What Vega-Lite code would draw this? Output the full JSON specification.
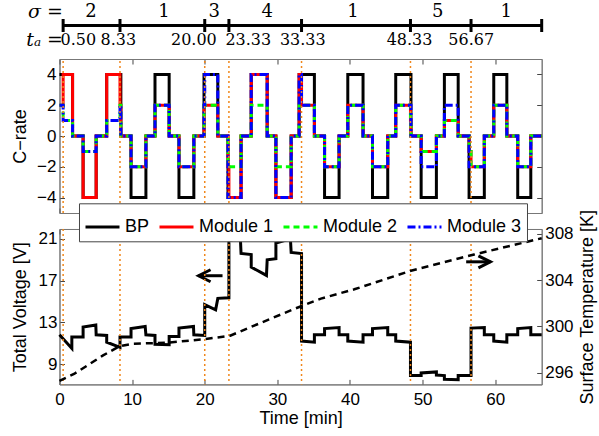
{
  "$schema": "https://vega.github.io/schema/vega-lite/v6.json",
  "background": "white",
  "padding": {"left": 10.5, "top": 0, "right": 2, "bottom": 2},
  "spacing": 16,
  "bounds": "flush",
  "config": {
    "font": "Liberation Sans",
    "view": {"stroke": "#777", "strokeWidth": 1},
    "axis": {"grid": false, "labelFont": "Liberation Sans", "labelFontSize": 17, "labelColor": "#000", "titleFont": "Liberation Sans", "titleFontSize": 18, "titleFontWeight": "normal", "titleColor": "#000", "tickSize": -5, "tickColor": "#444", "domainColor": "#777", "labelFlush": false, "labelOverlap": false, "labelPadding": 11},
    "legend": {"orient": "none", "legendX": 19.5, "legendY": 203.3, "direction": "horizontal", "symbolType": "stroke", "symbolSize": 1156, "symbolStrokeWidth": 3, "labelFont": "Liberation Sans", "labelFontSize": 18, "labelColor": "black", "labelOffset": 4, "columnPadding": 3, "padding": 5, "fillColor": "white", "strokeColor": "#444", "cornerRadius": 0}
  },
  "datasets": {
    "switches": [{"t": 0.5}, {"t": 8.33}, {"t": 20.0}, {"t": 23.33}, {"t": 33.33}, {"t": 48.33}, {"t": 56.67}],
    "timelineTicks": [{"t": 0.5}, {"t": 8.33}, {"t": 20.0}, {"t": 23.33}, {"t": 33.33}, {"t": 48.33}, {"t": 56.67}, {"t": 66.4}],
    "timelineSpan": [{"t1": 0.5, "t2": 66.4}],
    "sigmaLabels": [{"t": 4.35, "sigma": "2"}, {"t": 14.4, "sigma": "1"}, {"t": 21.3, "sigma": "3"}, {"t": 28.6, "sigma": "4"}, {"t": 40.4, "sigma": "1"}, {"t": 52.1, "sigma": "5"}, {"t": 61.5, "sigma": "1"}],
    "taLabels": [{"t": 2.6, "label": "0.50"}, {"t": 8.1, "label": "8.33"}, {"t": 18.5, "label": "20.00"}, {"t": 26.0, "label": "23.33"}, {"t": 33.5, "label": "33.33"}, {"t": 48.2, "label": "48.33"}, {"t": 56.7, "label": "56.67"}],
    "crate": [
      {"t": 0, "BP": 4, "Module 1": 2, "Module 2": 2, "Module 3": 2},
      {"t": 0.5, "BP": 4, "Module 1": 4, "Module 2": 1, "Module 3": 1},
      {"t": 1.8, "BP": 0, "Module 1": 0, "Module 2": 0, "Module 3": 0},
      {"t": 3.25, "BP": -4, "Module 1": -4, "Module 2": -1, "Module 3": -1},
      {"t": 5.05, "BP": 0, "Module 1": 0, "Module 2": 0, "Module 3": 0},
      {"t": 6.5, "BP": 4, "Module 1": 4, "Module 2": 1, "Module 3": 1},
      {"t": 8.33, "BP": 4, "Module 1": 2, "Module 2": 2, "Module 3": 2},
      {"t": 8.45, "BP": 0, "Module 1": 0, "Module 2": 0, "Module 3": 0},
      {"t": 9.85, "BP": -4, "Module 1": -2, "Module 2": -2, "Module 3": -2},
      {"t": 11.9, "BP": 0, "Module 1": 0, "Module 2": 0, "Module 3": 0},
      {"t": 13.15, "BP": 4, "Module 1": 2, "Module 2": 2, "Module 3": 2},
      {"t": 15.1, "BP": 0, "Module 1": 0, "Module 2": 0, "Module 3": 0},
      {"t": 16.45, "BP": -4, "Module 1": -2, "Module 2": -2, "Module 3": -2},
      {"t": 18.5, "BP": 0, "Module 1": 0, "Module 2": 0, "Module 3": 0},
      {"t": 19.9, "BP": 4, "Module 1": 2, "Module 2": 2, "Module 3": 2},
      {"t": 20.0, "BP": 4, "Module 1": 2, "Module 2": 2, "Module 3": 4},
      {"t": 21.8, "BP": 0, "Module 1": 0, "Module 2": 0, "Module 3": 0},
      {"t": 23.2, "BP": -4, "Module 1": -2, "Module 2": -2, "Module 3": -4},
      {"t": 23.33, "BP": -4, "Module 1": -4, "Module 2": -2, "Module 3": -4},
      {"t": 25.0, "BP": 0, "Module 1": 0, "Module 2": 0, "Module 3": 0},
      {"t": 26.4, "BP": 4, "Module 1": 4, "Module 2": 2, "Module 3": 4},
      {"t": 28.6, "BP": 0, "Module 1": 0, "Module 2": 0, "Module 3": 0},
      {"t": 29.8, "BP": -4, "Module 1": -4, "Module 2": -2, "Module 3": -4},
      {"t": 31.9, "BP": 0, "Module 1": 0, "Module 2": 0, "Module 3": 0},
      {"t": 33.0, "BP": 4, "Module 1": 4, "Module 2": 2, "Module 3": 4},
      {"t": 33.33, "BP": 4, "Module 1": 2, "Module 2": 2, "Module 3": 2},
      {"t": 35.1, "BP": 0, "Module 1": 0, "Module 2": 0, "Module 3": 0},
      {"t": 36.5, "BP": -4, "Module 1": -2, "Module 2": -2, "Module 3": -2},
      {"t": 38.5, "BP": 0, "Module 1": 0, "Module 2": 0, "Module 3": 0},
      {"t": 39.7, "BP": 4, "Module 1": 2, "Module 2": 2, "Module 3": 2},
      {"t": 41.8, "BP": 0, "Module 1": 0, "Module 2": 0, "Module 3": 0},
      {"t": 43.1, "BP": -4, "Module 1": -2, "Module 2": -2, "Module 3": -2},
      {"t": 45.2, "BP": 0, "Module 1": 0, "Module 2": 0, "Module 3": 0},
      {"t": 46.3, "BP": 4, "Module 1": 2, "Module 2": 2, "Module 3": 2},
      {"t": 48.33, "BP": 4, "Module 1": 1, "Module 2": 1, "Module 3": 2},
      {"t": 48.4, "BP": 0, "Module 1": 0, "Module 2": 0, "Module 3": 0},
      {"t": 49.8, "BP": -4, "Module 1": -1, "Module 2": -1, "Module 3": -2},
      {"t": 51.9, "BP": 0, "Module 1": 0, "Module 2": 0, "Module 3": 0},
      {"t": 53.0, "BP": 4, "Module 1": 1, "Module 2": 1, "Module 3": 2},
      {"t": 54.9, "BP": 0, "Module 1": 0, "Module 2": 0, "Module 3": 0},
      {"t": 56.4, "BP": -4, "Module 1": -1, "Module 2": -1, "Module 3": -2},
      {"t": 56.67, "BP": -4, "Module 1": -2, "Module 2": -2, "Module 3": -2},
      {"t": 58.5, "BP": 0, "Module 1": 0, "Module 2": 0, "Module 3": 0},
      {"t": 59.8, "BP": 4, "Module 1": 2, "Module 2": 2, "Module 3": 2},
      {"t": 61.6, "BP": 0, "Module 1": 0, "Module 2": 0, "Module 3": 0},
      {"t": 63.1, "BP": -4, "Module 1": -2, "Module 2": -2, "Module 3": -2},
      {"t": 64.9, "BP": 0, "Module 1": 0, "Module 2": 0, "Module 3": 0},
      {"t": 66.4, "BP": 0, "Module 1": 0, "Module 2": 0, "Module 3": 0}
    ],
    "voltage": [
      {"t": 0, "v": 11.8}, {"t": 1.7, "v": 10.5}, {"t": 1.7, "v": 11.6}, {"t": 3.25, "v": 11.6}, {"t": 3.25, "v": 12.55}, {"t": 5.0, "v": 12.75}, {"t": 5.05, "v": 11.8},
      {"t": 6.5, "v": 11.75}, {"t": 6.5, "v": 11.1}, {"t": 8.33, "v": 10.6}, {"t": 8.33, "v": 11.6}, {"t": 9.85, "v": 11.6}, {"t": 9.85, "v": 12.4}, {"t": 11.8, "v": 12.6},
      {"t": 11.9, "v": 11.8}, {"t": 13.15, "v": 11.75}, {"t": 13.15, "v": 10.9}, {"t": 15.1, "v": 10.85}, {"t": 15.1, "v": 11.64}, {"t": 16.45, "v": 11.64}, {"t": 16.45, "v": 12.45},
      {"t": 18.45, "v": 12.6}, {"t": 18.5, "v": 11.8}, {"t": 20.0, "v": 11.75}, {"t": 20.0, "v": 14.7}, {"t": 21.5, "v": 14.2}, {"t": 21.8, "v": 15.3}, {"t": 23.33, "v": 15.35},
      {"t": 23.33, "v": 20.8}, {"t": 24.9, "v": 21.2}, {"t": 25.0, "v": 19.6}, {"t": 26.4, "v": 19.5}, {"t": 26.4, "v": 18.3}, {"t": 28.5, "v": 17.5}, {"t": 28.6, "v": 19.0},
      {"t": 29.8, "v": 19.1}, {"t": 29.8, "v": 20.6}, {"t": 31.8, "v": 21.0}, {"t": 31.9, "v": 19.7}, {"t": 33.33, "v": 19.6}, {"t": 33.33, "v": 11.2}, {"t": 35.1, "v": 11.1},
      {"t": 35.1, "v": 11.8}, {"t": 36.5, "v": 11.8}, {"t": 36.5, "v": 12.4}, {"t": 38.5, "v": 12.5}, {"t": 38.5, "v": 11.8}, {"t": 39.7, "v": 11.8}, {"t": 39.7, "v": 11.2},
      {"t": 41.8, "v": 11.1}, {"t": 41.8, "v": 11.8}, {"t": 43.1, "v": 11.8}, {"t": 43.1, "v": 12.4}, {"t": 45.2, "v": 12.5}, {"t": 45.2, "v": 11.8}, {"t": 46.3, "v": 11.8},
      {"t": 46.3, "v": 11.2}, {"t": 48.33, "v": 11.1}, {"t": 48.33, "v": 7.9}, {"t": 49.8, "v": 7.9}, {"t": 49.8, "v": 8.15}, {"t": 51.9, "v": 8.25}, {"t": 51.9, "v": 7.95},
      {"t": 53.0, "v": 7.9}, {"t": 53.0, "v": 7.55}, {"t": 54.9, "v": 7.5}, {"t": 54.9, "v": 7.9}, {"t": 56.67, "v": 7.9}, {"t": 56.67, "v": 12.45}, {"t": 58.5, "v": 12.5},
      {"t": 58.5, "v": 11.8}, {"t": 59.8, "v": 11.8}, {"t": 59.8, "v": 11.2}, {"t": 61.6, "v": 11.1}, {"t": 61.6, "v": 11.8}, {"t": 63.1, "v": 11.8}, {"t": 63.1, "v": 12.4},
      {"t": 64.9, "v": 12.5}, {"t": 64.9, "v": 11.8}, {"t": 66.4, "v": 11.8}
    ],
    "temperature": [
      {"t": 0, "temp": 295.3}, {"t": 2, "temp": 295.9}, {"t": 4, "temp": 296.7}, {"t": 6, "temp": 297.5}, {"t": 8.3, "temp": 298.3}, {"t": 10, "temp": 298.5},
      {"t": 15, "temp": 298.6}, {"t": 20, "temp": 298.9}, {"t": 23.5, "temp": 299.2}, {"t": 27.7, "temp": 300.3}, {"t": 32.3, "temp": 301.5}, {"t": 36, "temp": 302.4},
      {"t": 40.6, "temp": 303.2}, {"t": 48.4, "temp": 304.8}, {"t": 57.1, "temp": 306.2}, {"t": 66.4, "temp": 307.6}
    ],
    "arrowL": [{"t1": 19.15, "t2": 22.45, "v": 17.47}],
    "arrowR": [{"t1": 56.0, "t2": 59.34, "temp": 305.57}]
  },
  "vconcat": [
    {
      "width": 482.2, "height": 43, "view": {"stroke": null},
      "layer": [
        {"data": {"name": "timelineSpan"}, "mark": {"type": "rule", "strokeWidth": 3, "color": "black"},
         "encoding": {
           "x": {"field": "t1", "type": "quantitative", "scale": {"domain": [0, 66.4], "nice": false, "zero": false}, "axis": null},
           "x2": {"field": "t2"},
           "y": {"datum": "axis", "type": "nominal", "scale": {"type": "point", "domain": ["σ =", "axis", "tₐ  ="], "padding": 0.536, "align": 0.767},
                 "axis": {"orient": "left", "values": ["σ =", "tₐ  ="], "ticks": false, "domain": false, "labelFont": "DejaVu Serif", "labelFontStyle": "italic", "labelFontSize": 19, "labelPadding": -3, "title": null}}
         }},
        {"data": {"name": "timelineTicks"}, "mark": {"type": "tick", "size": 13, "thickness": 3, "color": "black", "opacity": 1},
         "encoding": {"x": {"field": "t", "type": "quantitative"}, "y": {"datum": "axis", "type": "nominal"}}},
        {"data": {"name": "sigmaLabels"}, "mark": {"type": "text", "font": "DejaVu Serif", "fontSize": 18, "baseline": "middle", "color": "black"},
         "encoding": {"x": {"field": "t", "type": "quantitative"}, "y": {"datum": "σ =", "type": "nominal"}, "text": {"field": "sigma"}}},
        {"data": {"name": "taLabels"}, "mark": {"type": "text", "font": "DejaVu Serif", "fontSize": 16, "baseline": "middle", "color": "black"},
         "encoding": {"x": {"field": "t", "type": "quantitative"}, "y": {"datum": "tₐ  =", "type": "nominal"}, "text": {"field": "label"}}}
      ]
    },
    {
      "width": 482.2, "height": 154,
      "layer": [
        {"data": {"name": "crate"},
         "transform": [{"fold": ["BP", "Module 1", "Module 2", "Module 3"], "as": ["series", "value"]}],
         "mark": {"type": "line", "interpolate": "step-after", "strokeWidth": 3},
         "encoding": {
           "x": {"field": "t", "type": "quantitative", "scale": {"domain": [0, 66.4], "nice": false, "zero": false},
                 "axis": {"orient": "bottom", "values": [0, 10, 20, 30, 40, 50, 60], "labels": false, "title": null}},
           "y": {"field": "value", "type": "quantitative", "scale": {"domain": [-5, 5], "nice": false},
                 "axis": {"orient": "left", "values": [-4, -2, 0, 2, 4], "title": "C−rate", "labelPadding": 8.5, "titlePadding": 7.6}},
           "color": {"field": "series", "type": "nominal", "scale": {"domain": ["BP", "Module 1", "Module 2", "Module 3"], "range": ["#000000", "#ff0000", "#00ff00", "#0000ff"]}, "legend": {"title": null}},
           "strokeDash": {"field": "series", "type": "nominal", "scale": {"domain": ["BP", "Module 1", "Module 2", "Module 3"], "range": [[1, 0], [1, 0], [6, 4], [8, 3, 2, 3]]}, "legend": {"title": null}}
         }},
        {"data": {"name": "switches"}, "mark": {"type": "rule", "color": "#f0861a", "strokeWidth": 1.5, "strokeDash": [2, 3]},
         "encoding": {
           "x": {"field": "t", "type": "quantitative", "axis": {"orient": "top", "values": [0, 10, 20, 30, 40, 50, 60], "labels": false, "title": null}},
           "y": {"datum": -5, "type": "quantitative", "axis": {"orient": "right", "values": [-4, -2, 0, 2, 4], "labels": false, "title": null}},
           "y2": {"datum": 5}
         }}
      ],
      "resolve": {"axis": {"x": "independent", "y": "independent"}}
    },
    {
      "width": 482.2, "height": 155.4,
      "layer": [
        {
          "layer": [
            {"data": {"name": "voltage"}, "mark": {"type": "line", "color": "black", "strokeWidth": 3},
             "encoding": {
               "x": {"field": "t", "type": "quantitative", "scale": {"domain": [0, 66.4], "nice": false, "zero": false},
                     "axis": {"orient": "bottom", "values": [0, 10, 20, 30, 40, 50, 60], "title": "Time [min]", "labelPadding": 12, "titlePadding": 2}},
               "y": {"field": "v", "type": "quantitative", "scale": {"domain": [7.05, 21.95], "nice": false, "zero": false},
                     "axis": {"orient": "left", "values": [9, 13, 17, 21], "title": "Total Voltage [V]", "labelPadding": 7.5, "titlePadding": 9}}
             }},
            {"data": {"name": "arrowL"}, "mark": {"type": "rule", "strokeWidth": 3, "color": "black"},
             "encoding": {"x": {"field": "t1", "type": "quantitative", "axis": null}, "x2": {"field": "t2"}, "y": {"field": "v", "type": "quantitative"}}},
            {"data": {"name": "arrowL"}, "mark": {"type": "point", "shape": "M 2 -1 L 0 0 L 2 1", "filled": false, "size": 144, "strokeWidth": 3, "color": "black", "opacity": 1},
             "encoding": {"x": {"field": "t1", "type": "quantitative", "axis": null}, "y": {"field": "v", "type": "quantitative"}}},
            {"data": {"name": "switches"}, "mark": {"type": "rule", "color": "#f0861a", "strokeWidth": 1.5, "strokeDash": [2, 3]},
             "encoding": {"x": {"field": "t", "type": "quantitative", "axis": {"orient": "top", "values": [0, 10, 20, 30, 40, 50, 60], "labels": false, "title": null}}}}
          ],
          "resolve": {"axis": {"x": "independent"}}
        },
        {
          "layer": [
            {"data": {"name": "temperature"}, "mark": {"type": "line", "color": "black", "strokeWidth": 2.5, "strokeDash": [7, 5]},
             "encoding": {
               "x": {"field": "t", "type": "quantitative", "axis": null},
               "y": {"field": "temp", "type": "quantitative", "scale": {"domain": [295, 308.4], "nice": false, "zero": false},
                     "axis": {"orient": "right", "values": [296, 298, 300, 302, 304, 306, 308], "title": "Surface Temperature [K]", "titleAngle": 270, "titleBaseline": "top", "titlePadding": 5, "labelPadding": 8}}
             }},
            {"data": {"name": "arrowR"}, "mark": {"type": "rule", "strokeWidth": 3, "color": "black"},
             "encoding": {"x": {"field": "t1", "type": "quantitative", "axis": null}, "x2": {"field": "t2"}, "y": {"field": "temp", "type": "quantitative"}}},
            {"data": {"name": "arrowR"}, "mark": {"type": "point", "shape": "M -2 -1 L 0 0 L -2 1", "filled": false, "size": 144, "strokeWidth": 3, "color": "black", "opacity": 1},
             "encoding": {"x": {"field": "t2", "type": "quantitative", "axis": null}, "y": {"field": "temp", "type": "quantitative"}}}
          ]
        }
      ],
      "resolve": {"scale": {"y": "independent"}, "axis": {"x": "independent"}}
    }
  ]
}
